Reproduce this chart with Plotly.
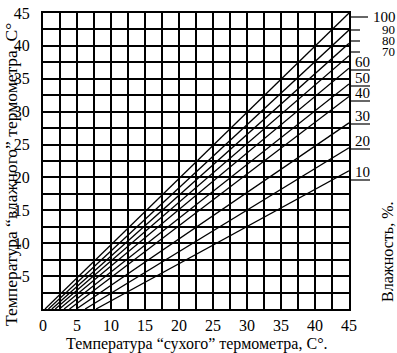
import plotly.graph_objects as go

# Relative humidity lines (%)
rh_labels = [100, 90, 80, 70, 60, 50, 40, 30, 20, 10]
# wet-bulb temperature where each line meets dry-bulb = 45 °C
wet_at_45 = [45.0, 42.4, 40.4, 38.5, 36.6, 34.2, 32.3, 28.3, 24.5, 21.0]
# dry-bulb temperature where each line starts (wet-bulb = 0)
dry_at_0 = [0.3, 0.8, 1.3, 1.8, 2.4, 3.1, 3.9, 4.9, 6.2, 7.8]

x_ticks = [0, 5, 10, 15, 20, 25, 30, 35, 40, 45]
y_ticks = [5, 10, 15, 20, 25, 30, 35, 40, 45]

FONT = "Liberation Serif"
W, H = 397, 353
L, R, T, B = 43, 48, 13, 44
pw, ph = W - L - R, H - T - B

def px(x):
    return (x - L) / pw

def py(y):
    return (H - B - y) / ph

fig = go.Figure()
for rh, x0, y45 in zip(rh_labels, dry_at_0, wet_at_45):
    fig.add_trace(go.Scatter(x=[x0, 45], y=[0, y45], mode="lines",
                             line=dict(color="black", width=1.3),
                             showlegend=False, hoverinfo="skip"))

# label positions on the right (pixels)
lab_pos = {100: (384, 17), 90: (388, 29), 80: (388, 40), 70: (388, 51),
           60: (362, 62), 50: (362, 78), 40: (362, 93), 30: (362, 116),
           20: (362, 141), 10: (362, 172)}
shapes = []
annotations = []
for rh, y45 in zip(rh_labels, wet_at_45):
    lx, ly = lab_pos[rh]
    if rh >= 70:
        x_end = px(360) if rh != 100 else px(368)
        yline = py(ly + (0 if rh == 100 else 1))
        shapes.append(dict(type="line", xref="paper", yref="paper",
                           x0=1, x1=x_end, y0=yline, y1=yline,
                           line=dict(color="black", width=1.2)))
    else:
        yline = py(ly + 8)
        shapes.append(dict(type="line", xref="paper", yref="paper",
                           x0=1, x1=px(370), y0=yline, y1=yline,
                           line=dict(color="black", width=1.2)))
    fs = 15 if rh == 100 or rh <= 60 else 13
    annotations.append(dict(text=str(rh), xref="paper", yref="paper",
                            x=px(lx), y=py(ly), showarrow=False,
                            xanchor="center", yanchor="middle",
                            font=dict(family=FONT, size=fs, color="black")))

annotations.append(dict(text="Температура “сухого” термометра, С°.",
                        xref="paper", yref="paper", x=px(197), y=py(344),
                        showarrow=False, xanchor="center", yanchor="middle",
                        font=dict(family=FONT, size=16, color="black")))
annotations.append(dict(text="Температура “влажного” термометра, С°",
                        xref="paper", yref="paper", x=px(11), y=py(175),
                        showarrow=False, textangle=-90,
                        xanchor="center", yanchor="middle",
                        font=dict(family=FONT, size=17.5, color="black")))
annotations.append(dict(text="Влажность, %.",
                        xref="paper", yref="paper", x=px(387), y=py(252),
                        showarrow=False, textangle=-90,
                        xanchor="center", yanchor="middle",
                        font=dict(family=FONT, size=16, color="black")))

axis_common = dict(
    showline=True, linecolor="black", linewidth=2, mirror=True,
    showgrid=True, gridcolor="black", gridwidth=2,
    zeroline=False, ticks="",
    tickfont=dict(family=FONT, size=16, color="black"),
    minor=dict(dtick=2.5, showgrid=True, gridcolor="black", gridwidth=2),
    automargin=False,
)

fig.update_layout(
    width=W, height=H,
    margin=dict(l=L, r=R, t=T, b=B, autoexpand=False),
    paper_bgcolor="white", plot_bgcolor="white",
    xaxis=dict(range=[0, 45], tickvals=x_ticks, ticklabelstandoff=1,
               **axis_common),
    yaxis=dict(range=[0, 45], tickvals=y_ticks, ticklabelstandoff=8,
               **axis_common),
    shapes=shapes, annotations=annotations,
)

fig.write_html("out.html",
               config={"displayModeBar": False},
               post_script="document.body.style.margin='0';document.body.style.overflow='hidden';")
